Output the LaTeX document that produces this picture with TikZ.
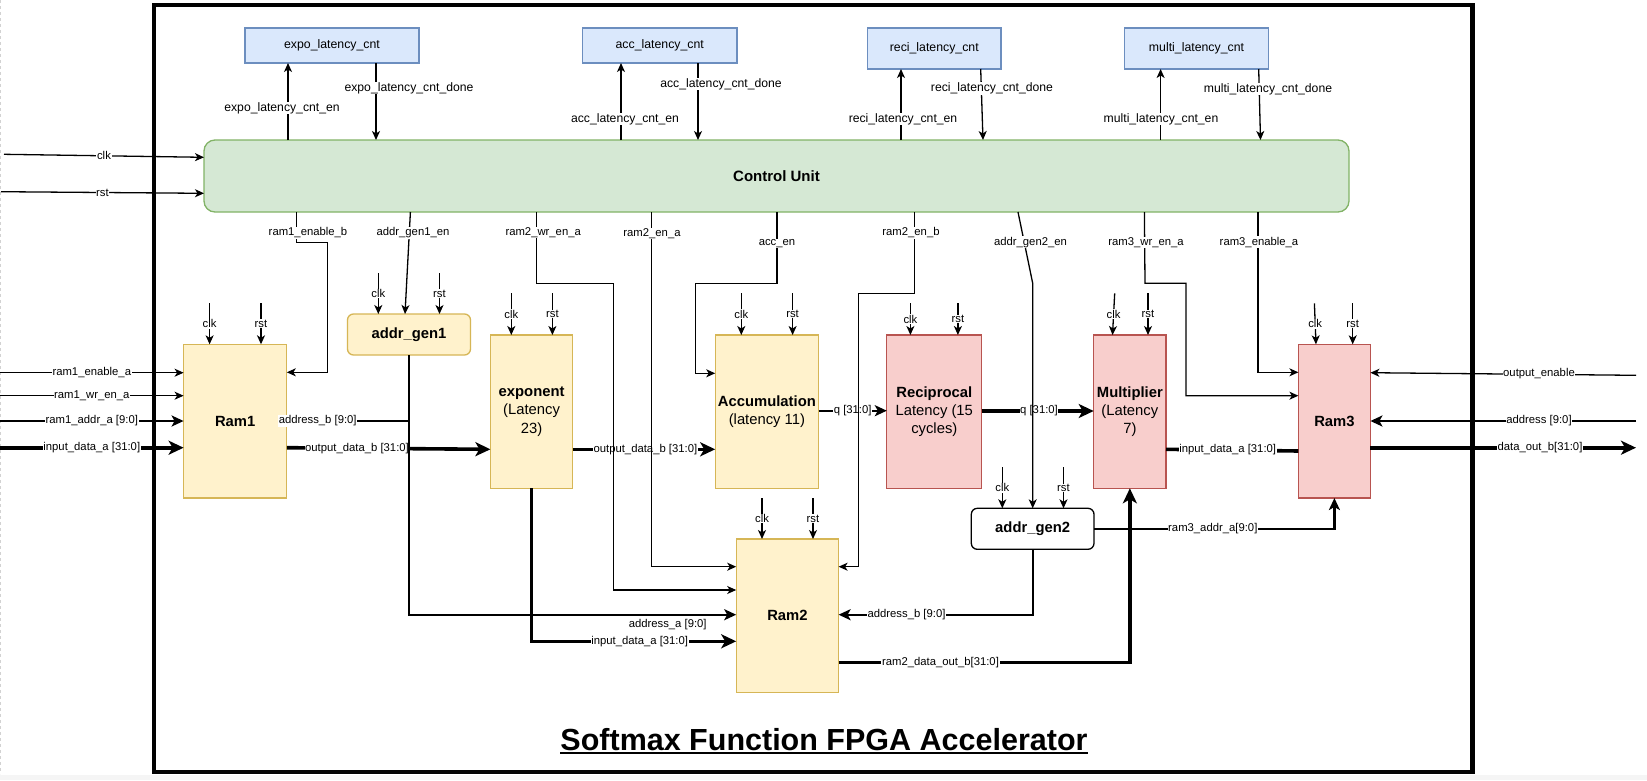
\documentclass[tikz,border=0pt]{standalone}
\usepackage{fontspec}
\setmainfont{Liberation Sans}
\usetikzlibrary{arrows.meta}
\definecolor{bluef}{HTML}{DAE8FC}\definecolor{blued}{HTML}{6C8EBF}
\definecolor{greenf}{HTML}{D5E8D4}\definecolor{greend}{HTML}{82B366}
\definecolor{yellf}{HTML}{FFF2CC}\definecolor{yelld}{HTML}{D6B656}
\definecolor{redf}{HTML}{F8CECC}\definecolor{redd}{HTML}{B85450}
\begin{document}
\begin{tikzpicture}[x=1pt,y=-1pt,
  lbl/.style={font=\fontsize{11.3}{13}\selectfont, fill=white, inner sep=0.6pt, text=black},
  lblc/.style={lbl, font=\fontsize{12.2}{14}\selectfont},
  wire/.style={draw=black, line width=1.3pt, -{Stealth[length=9pt,width=8pt,inset=2.5pt]}},
  bus2/.style={draw=black, line width=2.2pt, -{Stealth[length=12pt,width=11pt,inset=3pt]}},
  bus3/.style={draw=black, line width=3.6pt, -{Stealth[length=15pt,width=14pt,inset=4pt]}},
  bus3n/.style={draw=black, line width=3.6pt},
  box/.style={draw, line width=1.3pt, inner sep=0pt, outer sep=0pt, align=center},
  cntbox/.style={box, fill=bluef, draw=blued, font=\fontsize{12.3}{14}\selectfont},
  yelbox/.style={box, fill=yellf, draw=yelld, font=\fontsize{14.8}{18.3}\selectfont},
  redbox/.style={box, fill=redf, draw=redd, font=\fontsize{14.8}{18.3}\selectfont},
  whitebox/.style={box, fill=white, draw=black, font=\fontsize{14.8}{18.3}\selectfont},
]
\useasboundingbox (0,0) rectangle (1647,780);
\fill[white] (0,0) rectangle (1647,780);
\fill[gray!8] (0,774.5) rectangle (1647,780);
\draw[gray!35, dash pattern=on 3pt off 3pt, line width=1pt] (0.7,0) -- (0.7,774);

% frame
\draw[line width=4.3pt] (154,5) rectangle (1472.4,771.7);

% counters
\node[cntbox, minimum width=174pt, minimum height=35pt] (expo) at (332,45.5) {expo\_latency\_cnt};
\node[cntbox, minimum width=154.5pt, minimum height=35pt] (acccnt) at (659.75,45.5) {acc\_latency\_cnt};
\node[cntbox, minimum width=133.5pt, minimum height=41pt] (recicnt) at (934.25,48.5) {reci\_latency\_cnt};
\node[cntbox, minimum width=144pt, minimum height=41pt] (multicnt) at (1196.5,48.5) {multi\_latency\_cnt};

% control unit
\node[box, fill=greenf, draw=greend, rounded corners=11pt, minimum width=1145pt, minimum height=72pt,
      font=\bfseries\fontsize{15}{18}\selectfont] (cu) at (776.5,176) {Control Unit};

% blocks
\node[yelbox, minimum width=103.2pt, minimum height=153.7pt] (ram1) at (235.2,421.15) {\bfseries Ram1};
\node[yelbox, rounded corners=6pt, minimum width=123pt, minimum height=41pt] (ag1) at (409,334.5) {\bfseries addr\_gen1};
\node[yelbox, minimum width=82.4pt, minimum height=153.3pt] (expn) at (531.6,411.65) {{\bfseries exponent}\\(Latency\\23)};
\node[yelbox, minimum width=103.4pt, minimum height=153.3pt] (acc) at (766.9,411.65) {{\bfseries Accumulation}\\(latency 11)};
\node[redbox, minimum width=95pt, minimum height=153.3pt] (reci) at (934.3,411.65) {{\bfseries Reciprocal}\\Latency (15\\cycles)};
\node[redbox, minimum width=72.3pt, minimum height=153.3pt] (multi) at (1129.85,411.65) {{\bfseries Multiplier}\\(Latency\\7)};
\node[redbox, minimum width=72pt, minimum height=153.7pt] (ram3) at (1334.4,421.15) {\bfseries Ram3};
\node[yelbox, minimum width=102.4pt, minimum height=153.3pt] (ram2) at (787.4,615.65) {\bfseries Ram2};
\node[whitebox, rounded corners=6pt, minimum width=122.7pt, minimum height=41pt] (ag2) at (1032.65,528.8) {\bfseries addr\_gen2};

% title
\node[font=\bfseries\fontsize{30.5}{36}\selectfont, anchor=base, inner sep=0pt] (title) at (824,750) {Softmax Function FPGA Accelerator};
\draw[line width=2pt] ([yshift=-2.5pt]title.base west) -- ([yshift=-2.5pt]title.base east);

% external inputs
\coordinate (clkin) at (4,154.3);
\coordinate (rstin) at (1,191.7);
\draw[wire] (clkin) -- (cu.west |- 0,157.3) node[lbl,midway] {clk};
\draw[wire] (rstin) -- (cu.west |- 0,193.3) node[lbl,midway] {rst};

\coordinate (in1) at (0,372.7);
\coordinate (in2) at (0,395.7);
\coordinate (in3) at (0,421);
\coordinate (in4) at (0,447.7);
\draw[wire] (in1) -- (ram1.west |- in1) node[lbl,midway] {ram1\_enable\_a};
\draw[wire] (in2) -- (ram1.west |- in2) node[lbl,midway] {ram1\_wr\_en\_a};
\draw[bus2] (in3) -- (ram1.west |- in3) node[lbl,midway] {ram1\_addr\_a [9:0]};
\draw[bus3] (in4) -- (ram1.west |- in4) node[lbl,midway] {input\_data\_a [31:0]};

\coordinate (oe) at (1636,375.3);
\coordinate (adr) at (1636,421);
\coordinate (dout) at (1636,447.7);
\draw[wire] (oe) -- (ram3.east |- 0,372.7) node[lbl] at (1539,374) {output\_enable};
\draw[bus2] (adr) -- (ram3.east |- adr) node[lbl] at (1539,421) {address [9:0]};
\draw[bus3] (ram3.east |- dout) -- (dout) node[lbl] at (1540,447.7) {data\_out\_b[31:0]};

% data buses
\draw[bus3] (ram1.east |- 0,447.7) -- (expn.west |- 0,449.3) node[lbl] at (357,448.5) {output\_data\_b [31:0]};
\draw[bus2] (ag1.south) -- (ag1.south |- 0,614.7) -- (ram2.west |- 0,614.7) node[lbl] at (667.7,625) {address\_a [9:0]};
\draw[bus2] (ag1.south |- 0,421) -- (ram1.east |- 0,421) node[lbl] at (317.7,421) {address\_b [9:0]};
\draw[bus3] (expn.south) -- (expn.south |- 0,641.3) -- (ram2.west |- 0,641.3) node[lbl] at (639.7,641.3) {input\_data\_a [31:0]};
\draw[bus3] (expn.east |- 0,449.3) -- (acc.west |- 0,449.3) node[lbl] at (645.4,449.3) {output\_data\_b [31:0]};
\draw[bus2] (acc.east |- 0,410.7) -- (reci.west |- 0,410.7) node[lbl] at (852.7,410.7) {q [31:0]};
\draw[bus3] (reci.east |- 0,411) -- (multi.west |- 0,411) node[lbl] at (1039,411) {q [31:0]};
\draw[bus3n] (multi.east |- 0,449.3) -- (ram3.west |- 0,451) node[lbl] at (1227.7,450) {input\_data\_a [31:0]};
\draw[bus2] (ag2.south) -- (ag2.south |- 0,614.7) -- (ram2.east |- 0,614.7) node[lbl] at (906.5,614.7) {address\_b [9:0]};
\draw[bus2] (ag2.east) -- (ram3.south |- ag2.east) -- (ram3.south) node[lbl] at (1212.8,528.8) {ram3\_addr\_a[9:0]};
\draw[bus3] (ram2.east |- 0,662.5) -- (multi.south |- 0,662.5) -- (multi.south) node[lbl] at (940.5,662.5) {ram2\_data\_out\_b[31:0]};

% control unit to counters
\draw[wire] (288,0 |- cu.north) -- (288,0 |- expo.south) node[lblc] at (282,108) {expo\_latency\_cnt\_en};
\draw[wire] (376,0 |- expo.south) -- (376,0 |- cu.north) node[lblc] at (409,88) {expo\_latency\_cnt\_done};
\draw[wire] (621,0 |- cu.north) -- (621,0 |- acccnt.south) node[lblc] at (625,119) {acc\_latency\_cnt\_en};
\draw[wire] (698,0 |- acccnt.south) -- (698,0 |- cu.north) node[lblc] at (721,84) {acc\_latency\_cnt\_done};
\draw[wire] (901,0 |- cu.north) -- (901,0 |- recicnt.south) node[lblc] at (903,119) {reci\_latency\_cnt\_en};
\draw[wire] (980.7,0 |- recicnt.south) -- (983,0 |- cu.north) node[lblc] at (992,88.3) {reci\_latency\_cnt\_done};
\draw[wire] (1160.6,0 |- cu.north) -- (1160.6,0 |- multicnt.south) node[lblc] at (1161,119) {multi\_latency\_cnt\_en};
\draw[wire] (1258.7,0 |- multicnt.south) -- (1260.5,0 |- cu.north) node[lblc] at (1268,89) {multi\_latency\_cnt\_done};

% control unit outputs
\draw[wire] (296.2,0 |- cu.south) -- (296.2,242.3) -- (327.4,242.3) -- (327.4,372.3) -- (ram1.east |- 0,372.3) node[lbl] at (308,232.7) {ram1\_enable\_b};
\draw[wire] (410.4,0 |- cu.south) -- (405,0 |- ag1.north) node[lbl] at (413,233) {addr\_gen1\_en};
\draw[wire] (536.8,0 |- cu.south) -- (536.8,283.3) -- (613.6,283.3) -- (613.6,590) -- (ram2.west |- 0,590) node[lbl] at (543.2,232.7) {ram2\_wr\_en\_a};
\draw[wire] (651.5,0 |- cu.south) -- (651.5,566.7) -- (ram2.west |- 0,566.7) node[lbl] at (652,233.3) {ram2\_en\_a};
\draw[wire] (777,0 |- cu.south) -- (777,283.3) -- (695.4,283.3) -- (695.4,373.3) -- (acc.west |- 0,373.3) node[lbl] at (777,243.3) {acc\_en};
\draw[wire] (914.5,0 |- cu.south) -- (914.5,293.5) -- (858.7,293.5) -- (858.7,566.7) -- (ram2.east |- 0,566.7) node[lbl] at (911,233) {ram2\_en\_b};
\draw[wire] (1018,0 |- cu.south) -- (1032.7,283.3) -- (1032.7,0 |- ag2.north) node[lbl] at (1030.5,242.3) {addr\_gen2\_en};
\draw[wire] (1144.4,0 |- cu.south) -- (1145,283.3) -- (1186,283.3) -- (1186,395.7) -- (ram3.west |- 0,395.7) node[lbl] at (1146,242.3) {ram3\_wr\_en\_a};
\draw[wire] (1258,0 |- cu.south) -- (1258,372.3) -- (ram3.west |- 0,372.3) node[lbl] at (1259,242.3) {ram3\_enable\_a};

% clocks and resets
\foreach \xa/\xb/\t/\b/\l in {
  209.6/209.6/303.3/ram1/clk, 261/261/303.3/ram1/rst,
  378.3/378.3/273/ag1/clk, 439.5/439.5/273/ag1/rst,
  511.3/511.3/293.3/expn/clk, 552.4/552.4/293.3/expn/rst,
  741.3/741.3/293.3/acc/clk, 792.6/792.6/293.3/acc/rst,
  910.4/910.4/303.3/reci/clk, 957.9/957.9/303.3/reci/rst,
  1114.7/1112.5/293.3/multi/clk, 1148/1148/293.3/multi/rst,
  1314.4/1316/303.3/ram3/clk, 1352.7/1352.7/303.3/ram3/rst,
  762/762/498.3/ram2/clk, 813/813/498.3/ram2/rst,
  1002.3/1002.3/467.3/ag2/clk, 1063.5/1063.5/467.3/ag2/rst}
{
  \draw[wire] (\xa,\t) -- (\xb,0 |- \b.north) node[lbl,midway] {\l};
}
\end{tikzpicture}
\end{document}
